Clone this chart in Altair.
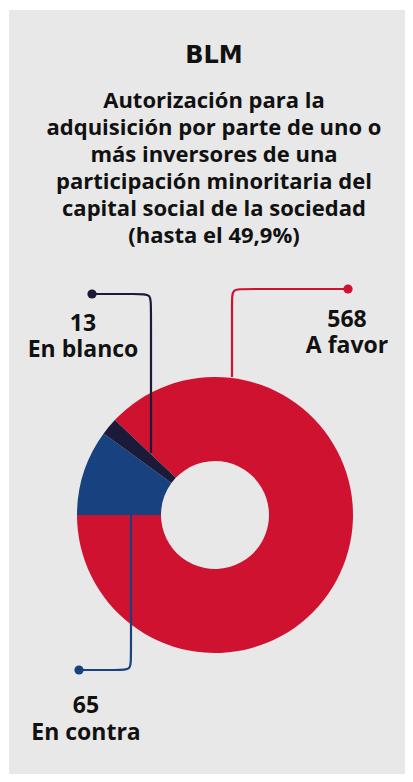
import math
import altair as alt
import pandas as pd

# ---------------- data ----------------
categories = ["A favor", "En contra", "En blanco"]
votes = [568, 65, 13]
colors = ["#CE1230", "#17417F", "#1B1A38"]

title_text = "BLM"
subtitle_lines = [
    "Autorización para la",
    "adquisición por parte de uno o",
    "más inversores de una",
    "participación minoritaria del",
    "capital social de la sociedad",
    "(hasta el 49,9%)",
]

# ---------------- layout (page pixels) ----------------
OFF = 8
W, H = 397, 766
CX, CY = 215, 515
R_OUT, R_IN = 138, 54
BG = "#E8E8E8"
FONT = "Open Sans"

# leader lines: (category, list of points)
leaders = {
    "En blanco": [(92, 294), (139, 294), (151, 294), (151, 306), (151, 453)],
    "A favor": [(348, 289), (244, 289), (232, 289), (232, 301), (232, 377)],
    "En contra": [(131, 512), (131, 658), (131, 670), (119, 670), (79, 670)],
}
dots = {"En blanco": (92, 294), "A favor": (348, 289), "En contra": (79, 670)}

labels = [  # (text, x, baseline y)
    ("13", 83, 331), ("En blanco", 83, 357),
    ("568", 347, 327), ("A favor", 347, 353),
    ("65", 86, 713), ("En contra", 86, 740),
]

# ---------------- frames ----------------
pie_df = pd.DataFrame({"cat": categories, "votes": votes, "ord": list(range(len(categories)))})

rows = []
for cat, pts in leaders.items():
    for i, (px, py) in enumerate(pts):
        rows.append({"cat": cat, "i": i, "px": px, "py": py})
line_df = pd.DataFrame(rows)
dot_df = pd.DataFrame([{"cat": c, "px": p[0], "py": p[1]} for c, p in dots.items()])
lab_df = pd.DataFrame([{"t": t, "px": x, "py": y} for t, x, y in labels])
sub_df = pd.DataFrame({"t": subtitle_lines, "px": [214] * len(subtitle_lines),
                       "py": [108 + 27 * i for i in range(len(subtitle_lines))]})
title_df = pd.DataFrame({"t": [title_text], "px": [214], "py": [63]})

xs = alt.X("px:Q", scale=alt.Scale(domain=[OFF, OFF + W], nice=False, zero=False), axis=None)
ys = alt.Y("py:Q", scale=alt.Scale(domain=[OFF, OFF + H], nice=False, zero=False, reverse=True), axis=None)
col = alt.Color("cat:N", scale=alt.Scale(domain=categories, range=colors), legend=None)

total = sum(votes)
start = math.radians(270 - 360 * votes[0] / total)

panel = alt.Chart(pd.DataFrame({"a": [0]})).mark_rect(color=BG).encode(
    x=alt.value(9 - OFF), x2=alt.value(W), y=alt.value(10 - OFF), y2=alt.value(H)
)

donut = alt.Chart(pie_df).mark_arc(outerRadius=R_OUT, innerRadius=R_IN).encode(
    theta=alt.Theta("votes:Q", stack=True, scale=alt.Scale(range=[start, start + 2 * math.pi])),
    order=alt.Order("ord:Q"),
    color=col,
    x=alt.value(CX - OFF),
    y=alt.value(CY - OFF),
)

lines = alt.Chart(line_df).mark_line(strokeWidth=2.2, interpolate="basis").encode(
    x=xs, y=ys, color=col, detail="cat:N", order="i:Q"
)
pts = alt.Chart(dot_df).mark_point(filled=True, size=85, opacity=1, shape="circle").encode(
    x=xs, y=ys, color=col
)

labs = alt.Chart(lab_df).mark_text(font=FONT, fontWeight="bold", fontSize=23, baseline="alphabetic",
                                   align="center", color="#111111").encode(x=xs, y=ys, text="t:N")
subs = alt.Chart(sub_df).mark_text(font=FONT, fontWeight="bold", fontSize=22, baseline="alphabetic",
                                   align="center", color="#111111").encode(x=xs, y=ys, text="t:N")
ttl = alt.Chart(title_df).mark_text(font="DejaVu Sans", fontWeight="bold", fontSize=24, baseline="alphabetic",
                                    align="center", color="#111111").encode(x=xs, y=ys, text="t:N")

chart = alt.layer(panel, donut, lines, pts, labs, subs, ttl).properties(
    width=W, height=H, padding=0, autosize=alt.AutoSizeParams(type="none"), background="white"
).configure_view(stroke=None).resolve_scale(color="shared")

chart.save("out.html", embed_options={"renderer": "svg", "actions": False})
